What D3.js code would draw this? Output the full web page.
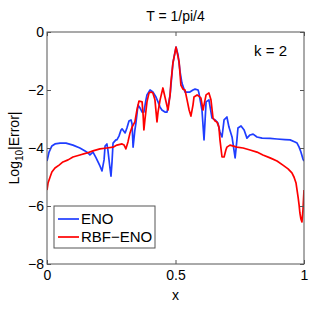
<!DOCTYPE html>
<meta charset="utf-8">
<script src="https://d3js.org/d3.v7.min.js"></script>
<style>
body { margin: 0; background: #fff; }
text { font-family: "Liberation Sans", Arial, sans-serif; fill: #000; }
</style>
<div id="chart"></div>
<script>
  // Data (x in [0,1], y = log10|error|)
  var enoX = [0.000,0.008,0.019,0.031,0.051,0.074,0.101,0.128,0.148,0.160,0.167,0.179,0.191,0.206,0.214,0.222,0.226,0.233,0.237,0.245,0.249,0.253,0.257,0.268,0.272,0.280,0.288,0.292,0.304,0.311,0.319,0.327,0.331,0.335,0.342,0.346,0.354,0.362,0.370,0.377,0.385,0.389,0.401,0.412,0.424,0.432,0.440,0.447,0.459,0.467,0.479,0.490,0.502,0.510,0.518,0.525,0.537,0.549,0.556,0.568,0.576,0.588,0.591,0.603,0.611,0.619,0.630,0.642,0.654,0.665,0.673,0.681,0.689,0.700,0.708,0.720,0.732,0.739,0.743,0.755,0.767,0.778,0.790,0.802,0.817,0.837,0.868,0.895,0.926,0.946,0.965,0.973,0.981,0.988,0.996,1.000];
  var enoY = [-4.45,-4.14,-3.93,-3.86,-3.83,-3.83,-3.90,-4.00,-4.10,-4.17,-4.24,-4.14,-4.34,-4.62,-4.79,-4.41,-3.93,-3.86,-4.07,-4.69,-4.97,-4.48,-3.83,-3.72,-3.72,-3.59,-3.38,-3.34,-3.48,-3.31,-3.07,-3.03,-3.17,-3.97,-3.38,-3.14,-2.52,-2.62,-2.76,-2.76,-2.34,-2.17,-2.00,-2.07,-2.24,-2.41,-2.59,-2.69,-2.76,-2.76,-2.17,-1.07,-0.52,-0.79,-1.38,-1.76,-2.07,-2.07,-2.07,-2.00,-1.97,-2.00,-2.10,-2.69,-3.72,-2.41,-2.34,-2.97,-3.03,-3.14,-3.45,-3.62,-3.03,-2.93,-3.28,-3.62,-4.34,-3.72,-3.31,-3.24,-3.38,-3.66,-3.55,-3.52,-3.62,-3.66,-3.67,-3.69,-3.71,-3.72,-3.79,-3.83,-3.97,-4.14,-4.38,-4.45];

  var rbfX = [0.000,0.004,0.012,0.019,0.031,0.047,0.062,0.082,0.101,0.128,0.156,0.179,0.206,0.233,0.257,0.272,0.292,0.300,0.307,0.315,0.323,0.331,0.342,0.350,0.358,0.370,0.374,0.377,0.381,0.389,0.397,0.405,0.412,0.420,0.428,0.432,0.440,0.451,0.459,0.467,0.471,0.479,0.482,0.490,0.502,0.514,0.521,0.529,0.537,0.545,0.553,0.560,0.568,0.572,0.584,0.591,0.599,0.607,0.615,0.619,0.630,0.638,0.646,0.654,0.661,0.669,0.673,0.681,0.689,0.696,0.700,0.712,0.739,0.763,0.790,0.817,0.840,0.868,0.895,0.918,0.938,0.953,0.961,0.969,0.977,0.981,0.984,0.988,0.992,0.996,1.000];
  var rbfY = [-5.45,-5.21,-5.00,-4.83,-4.69,-4.59,-4.48,-4.41,-4.31,-4.24,-4.17,-4.10,-4.03,-4.00,-3.97,-3.90,-3.86,-3.90,-4.03,-3.79,-3.48,-3.28,-3.10,-2.69,-2.38,-2.41,-2.86,-3.38,-3.03,-2.41,-2.10,-2.07,-2.10,-2.34,-3.10,-2.76,-2.34,-1.93,-2.24,-2.55,-2.69,-2.17,-1.76,-1.07,-0.52,-1.03,-1.83,-1.97,-2.00,-2.34,-2.69,-2.90,-2.52,-2.24,-2.17,-2.21,-2.28,-2.69,-2.34,-2.17,-2.10,-2.34,-2.97,-3.07,-3.10,-3.28,-3.72,-4.31,-4.31,-4.07,-3.97,-3.90,-3.97,-4.00,-4.07,-4.14,-4.24,-4.34,-4.45,-4.59,-4.72,-4.86,-5.00,-5.21,-5.69,-5.97,-6.24,-6.45,-6.55,-6.14,-5.45];

  var xTicks = [0, 0.5, 1];
  var yTicks = [0, -2, -4, -6, -8];
  var seriesNames = ["ENO", "RBF\u2212ENO"];
  var seriesColors = ["#1f3dff", "#ff0000"];

  var W = 332, H = 321;
  var margin = { top: 32, right: 28, bottom: 57, left: 47 };
  var width = W - margin.left - margin.right,
      height = H - margin.top - margin.bottom;

  var svg = d3.select("#chart").append("svg")
              .attr("width", W).attr("height", H);
  var g = svg.append("g")
             .attr("transform", "translate(" + margin.left + "," + margin.top + ")");

  var x = d3.scaleLinear().domain([0, 1]).range([0, width]);
  var y = d3.scaleLinear().domain([-8, 0]).range([height, 0]);

  // clip for lines
  g.append("clipPath").attr("id", "clip")
   .append("rect").attr("width", width).attr("height", height);

  var line = d3.line()
               .x(function (d) { return x(d[0]); })
               .y(function (d) { return y(d[1]); });

  var series = [d3.zip(enoX, enoY), d3.zip(rbfX, rbfY)];

  g.selectAll(".series")
   .data(series)
   .enter()
   .append("path")
   .attr("clip-path", "url(#clip)")
   .attr("fill", "none")
   .attr("stroke", function (d, i) { return seriesColors[i]; })
   .attr("stroke-width", 1.7)
   .attr("stroke-linejoin", "round")
   .attr("d", line);

  // axes (MATLAB style box with inward ticks)
  var axColor = "#555";
  function styleAxis(sel) {
    sel.select(".domain").remove();
    sel.selectAll(".tick line").attr("stroke", axColor);
    sel.selectAll(".tick text").attr("font-size", "14px")
       .style("font-family", "'Liberation Sans', Arial, sans-serif");
  }

  var xAxis = g.append("g").attr("transform", "translate(0," + height + ")")
               .call(d3.axisBottom(x).tickValues(xTicks).tickSize(-4).tickPadding(6)
                     .tickFormat(function (d) { return d3.format("")(d); }));
  styleAxis(xAxis);
  var xTop = g.append("g")
              .call(d3.axisTop(x).tickValues(xTicks).tickSize(-4).tickFormat(""));
  styleAxis(xTop);

  var yAxis = g.append("g")
               .call(d3.axisLeft(y).tickValues(yTicks).tickSize(-4).tickPadding(3)
                     .tickFormat(function (d) { return d3.format("")(d); }));
  styleAxis(yAxis);
  var yRight = g.append("g").attr("transform", "translate(" + width + ",0)")
                .call(d3.axisRight(y).tickValues(yTicks).tickSize(-4).tickFormat(""));
  styleAxis(yRight);

  g.append("rect")
   .attr("width", width).attr("height", height)
   .attr("fill", "none").attr("stroke", axColor).attr("stroke-width", 1);

  // labels
  svg.append("text")
     .attr("x", margin.left + width / 2).attr("y", 21)
     .attr("text-anchor", "middle").attr("font-size", "14px")
     .text("T = 1/pi/4");

  g.append("text")
   .attr("x", x(0.87)).attr("y", y(-0.82))
   .attr("text-anchor", "middle").attr("font-size", "15px")
   .text("k = 2");

  svg.append("text")
     .attr("x", margin.left + width / 2).attr("y", 300)
     .attr("text-anchor", "middle").attr("font-size", "14px")
     .text("x");

  var ylab = svg.append("text")
     .attr("transform", "translate(19," + (margin.top + height / 2) + ") rotate(-90)")
     .attr("text-anchor", "middle").attr("font-size", "14px");
  ylab.append("tspan").text("Log");
  ylab.append("tspan").attr("font-size", "10px").attr("dy", 4).text("10");
  ylab.append("tspan").attr("dy", -4).text("|Error|");

  // legend
  var leg = svg.append("g").attr("transform", "translate(54,206)");
  leg.append("rect").attr("width", 101).attr("height", 42)
     .attr("fill", "#fff").attr("stroke", axColor).attr("stroke-width", 1);
  seriesNames.forEach(function (name, i) {
    var yy = 13 + i * 18;
    leg.append("line").attr("x1", 4).attr("x2", 25).attr("y1", yy).attr("y2", yy)
       .attr("stroke", seriesColors[i]).attr("stroke-width", 1.7);
    leg.append("text").attr("x", 27).attr("y", yy + 5)
       .attr("font-size", "15px").text(name);
  });
</script>
